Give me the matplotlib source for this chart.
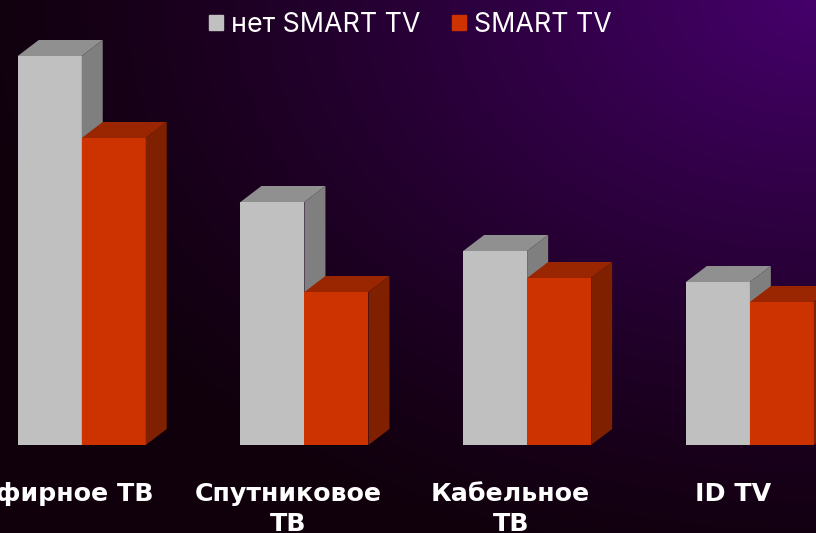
import numpy as np
import matplotlib
matplotlib.use('Agg')
import matplotlib.pyplot as plt
from matplotlib.patches import Polygon, Patch

categorias = ['Эфирное ТВ', 'Спутниковое\nТВ', 'Кабельное\nТВ', 'ID TV']
sin_smart = [389, 243, 194, 163]
con_smart = [307, 153, 167, 143]
nombres = ['нет SMART TV', 'SMART TV']

W, H = 816, 533
fig = plt.figure(figsize=(W / 100, H / 100), dpi=100)
ax = fig.add_axes([0, 0, 1, 1])

# Fondo: degradado hacia la esquina superior derecha
yy, xx = np.mgrid[0:1:H * 1j, 0:1:W * 1j]
d = np.sqrt(((1 - xx) * 1.0) ** 2 + (yy * 0.95) ** 2)
t = np.clip(1 - d / 1.05, 0, 1) ** 1.25
c0 = np.array([0x10, 0x00, 0x0c]) / 255
c1 = np.array([0x46, 0x00, 0x6c]) / 255
fondo = c0 + (c1 - c0) * t[..., None]
ax.imshow(fondo, extent=[-0.367, 3.297, -88, 445], aspect='auto', zorder=0)

ax.set_xlim(-0.367, 3.297)
ax.set_ylim(-88, 445)

ancho = 64 / 222.7
dx = 21 / 222.7
dy = 16


def barra3d(x, alto, frente, arriba, lado, z):
    ax.bar(x, alto, ancho, align='edge', color=frente, zorder=z)
    ax.add_patch(Polygon([(x, alto), (x + dx, alto + dy), (x + ancho + dx, alto + dy), (x + ancho, alto)],
                         facecolor=arriba, edgecolor='none', zorder=z))
    ax.add_patch(Polygon([(x + ancho, 0), (x + ancho + dx, dy), (x + ancho + dx, alto + dy), (x + ancho, alto)],
                         facecolor=lado, edgecolor='none', zorder=z))


for i in range(len(categorias)):
    barra3d(i - ancho, sin_smart[i], '#c0c0c0', '#909090', '#7f7f7f', 2 + i * 2)
    barra3d(i, con_smart[i], '#cc3300', '#992600', '#7f2000', 3 + i * 2)

ax.set_yticks([])
ax.set_xticks([])
for s in ax.spines.values():
    s.set_visible(False)

# Etiquetas de categoria (desplazadas a la izquierda, igual que el original)
for i, c in enumerate(categorias):
    ax.text(i - 0.074, -37, c, color='white', fontsize=18.2, fontweight='bold', family='DejaVu Sans',
            ha='center', va='top', linespacing=1.3, zorder=20)

handles = [Patch(color='#c0c0c0', label=nombres[0]), Patch(color='#cc3300', label=nombres[1])]
leg = ax.legend(handles=handles, ncol=2, frameon=False, loc='upper center', bbox_to_anchor=(0.503, 1.0),
                prop={'family': 'Inter', 'size': 19.3}, handlelength=0.52, handleheight=0.52,
                handletextpad=0.3, columnspacing=1.2, borderaxespad=0.05)
for t_ in leg.get_texts():
    t_.set_color('white')

fig.savefig('out.png', dpi=100)
